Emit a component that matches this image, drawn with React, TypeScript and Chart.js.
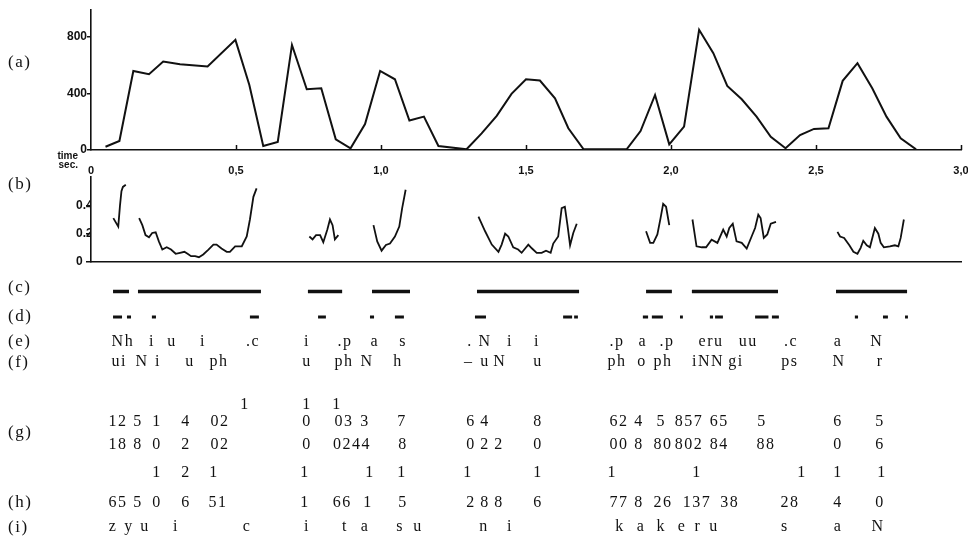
import React, { useEffect, useRef } from 'react';
import { Chart, registerables } from 'chart.js';

Chart.register(...registerables);

// ---------- axis ticks ----------
const X_TICK_VALUES = [0, 0.5, 1, 1.5, 2, 2.5, 3];
const X_TICK_LABELS = ['0', '0,5', '1,0', '1,5', '2,0', '2,5', '3,0'];
const A_TICK_VALUES = [0, 400, 800];
const A_TICK_LABELS = ['0', '400', '800'];
const B_TICK_VALUES = [0, 0.2, 0.4];
const B_TICK_LABELS = ['0', '0.2', '0.4'];

// ---------- (a) amplitude ----------
const ampTimes = [0.05, 0.098, 0.146, 0.2, 0.249, 0.307, 0.402, 0.498, 0.546, 0.594, 0.644, 0.693, 0.744, 0.794, 0.844, 0.895, 0.945, 0.997, 1.048, 1.098, 1.148, 1.198, 1.295, 1.347, 1.399, 1.45, 1.5, 1.548, 1.6, 1.646, 1.698, 1.847, 1.895, 1.945, 1.994, 2.045, 2.097, 2.146, 2.194, 2.244, 2.295, 2.344, 2.395, 2.445, 2.493, 2.543, 2.592, 2.643, 2.694, 2.743, 2.792, 2.845];
const ampValues = [23, 64, 559, 536, 625, 607, 590, 779, 460, 28, 57, 743, 430, 437, 76, 12, 184, 559, 500, 208, 236, 28, 5, 118, 241, 397, 500, 491, 366, 154, 7, 5, 134, 389, 40, 165, 850, 685, 453, 359, 236, 94, 12, 106, 149, 154, 489, 614, 437, 236, 83, 5];

// ---------- (b) pitch (null = break) ----------
const pitchTimes = [
  0.077, 0.094, 0.1, 0.105, 0.11, 0.12, null,
  0.166, 0.177, 0.188, 0.2, 0.211, 0.223, 0.234, 0.246, 0.261, 0.276, 0.292, 0.307, 0.322, 0.333, 0.345, 0.359, 0.372, 0.387, 0.405, 0.422, 0.433, 0.45, 0.468, 0.479, 0.497, 0.51, 0.52, 0.537, 0.548, 0.56, 0.571, null,
  0.753, 0.764, 0.776, 0.79, 0.801, 0.815, 0.824, 0.833, 0.841, 0.853, null,
  0.974, 0.987, 1.002, 1.017, 1.031, 1.048, 1.063, 1.073, 1.085, null,
  1.336, 1.359, 1.382, 1.405, 1.416, 1.428, 1.439, 1.456, 1.473, 1.485, 1.497, 1.508, 1.52, 1.537, 1.554, 1.569, 1.585, 1.594, 1.611, 1.623, 1.634, 1.643, 1.652, 1.663, 1.675, null,
  1.914, 1.928, 1.939, 1.953, 1.964, 1.973, 1.983, 1.994, null,
  2.074, 2.088, 2.106, 2.121, 2.14, 2.16, 2.18, 2.192, 2.201, 2.213, 2.226, 2.244, 2.261, 2.278, 2.29, 2.301, 2.309, 2.32, 2.332, 2.344, 2.362, null,
  2.574, 2.583, 2.597, 2.615, 2.629, 2.643, 2.654, 2.663, 2.675, 2.686, 2.703, 2.715, 2.723, 2.734, 2.755, 2.772, 2.784, 2.792, 2.803,
];
const pitchValues = [
  0.31, 0.25, 0.4, 0.5, 0.53, 0.545, null,
  0.31, 0.26, 0.19, 0.175, 0.205, 0.21, 0.146, 0.088, 0.104, 0.088, 0.058, 0.065, 0.072, 0.058, 0.041, 0.041, 0.034, 0.053, 0.088, 0.123, 0.123, 0.095, 0.072, 0.072, 0.111, 0.111, 0.111, 0.18, 0.3, 0.46, 0.52, null,
  0.18, 0.16, 0.19, 0.19, 0.14, 0.23, 0.3, 0.26, 0.16, 0.19, null,
  0.26, 0.145, 0.08, 0.12, 0.13, 0.18, 0.25, 0.38, 0.51, null,
  0.32, 0.217, 0.123, 0.072, 0.123, 0.2, 0.18, 0.104, 0.088, 0.065, 0.095, 0.123, 0.097, 0.065, 0.065, 0.08, 0.065, 0.13, 0.18, 0.38, 0.39, 0.26, 0.118, 0.205, 0.27, null,
  0.217, 0.135, 0.135, 0.194, 0.31, 0.41, 0.39, 0.26, null,
  0.3, 0.111, 0.104, 0.104, 0.158, 0.135, 0.229, 0.18, 0.24, 0.27, 0.146, 0.135, 0.095, 0.18, 0.24, 0.334, 0.31, 0.17, 0.194, 0.27, 0.283, null,
  0.213, 0.18, 0.17, 0.118, 0.072, 0.058, 0.1, 0.15, 0.118, 0.104, 0.24, 0.2, 0.135, 0.104, 0.111, 0.118, 0.111, 0.17, 0.3,
];

// ---------- (c) voiced segments, (d) marks ----------
const cStarts = [0.076, 0.162, 0.748, 0.969, 1.331, 1.914, 2.072, 2.569];
const cEnds = [0.131, 0.586, 0.866, 1.1, 1.683, 2.003, 2.369, 2.814];
const dStarts = [0.076, 0.124, 0.21, 0.548, 0.783, 0.962, 1.048, 1.324, 1.628, 1.666, 1.903, 1.934, 2.031, 2.134, 2.152, 2.29, 2.348, 2.634, 2.731, 2.807];
const dEnds = [0.107, 0.138, 0.224, 0.579, 0.81, 0.976, 1.079, 1.362, 1.659, 1.679, 1.921, 1.972, 2.041, 2.145, 2.179, 2.336, 2.372, 2.645, 2.748, 2.817];

// ---------- text rows (label, time) ----------
const eLabels = ['Nh', 'i', 'u', 'i', '.c', 'i', '.p', 'a', 's', '.', 'N', 'i', 'i', '.p', 'a', '.p', 'eru', 'uu', '.c', 'a', 'N'];
const eTimes = [0.11, 0.21, 0.279, 0.386, 0.559, 0.745, 0.876, 0.979, 1.076, 1.307, 1.359, 1.445, 1.538, 1.814, 1.903, 1.986, 2.138, 2.266, 2.414, 2.576, 2.71];
const fLabels = ['ui', 'N', 'i', 'u', 'ph', 'u', 'ph', 'N', 'h', '–', 'u', 'N', 'u', 'ph', 'o', 'ph', 'iNN', 'gi', 'ps', 'N', 'r'];
const fTimes = [0.097, 0.176, 0.231, 0.341, 0.441, 0.745, 0.872, 0.952, 1.059, 1.303, 1.359, 1.41, 1.541, 1.814, 1.9, 1.972, 2.128, 2.224, 2.41, 2.579, 2.721];
const gSupLabels = ['1', '1', '1'];
const gSupTimes = [0.531, 0.745, 0.848];
const g1Labels = ['12', '5', '1', '4', '02', '0', '03', '3', '7', '6', '4', '8', '62', '4', '5', '857', '65', '5', '6', '5'];
const g1Times = [0.093, 0.162, 0.228, 0.328, 0.445, 0.745, 0.872, 0.945, 1.072, 1.31, 1.359, 1.541, 1.821, 1.89, 1.966, 2.062, 2.166, 2.314, 2.576, 2.721];
const g2Labels = ['18', '8', '0', '2', '02', '0', '0244', '8', '0', '2', '2', '0', '00', '8', '80', '802', '84', '88', '0', '6'];
const g2Times = [0.093, 0.162, 0.228, 0.328, 0.445, 0.745, 0.9, 1.076, 1.31, 1.359, 1.407, 1.541, 1.821, 1.89, 1.972, 2.062, 2.166, 2.328, 2.576, 2.721];
const hSupLabels = ['1', '2', '1', '1', '1', '1', '1', '1', '1', '1', '1', '1', '1'];
const hSupTimes = [0.228, 0.328, 0.424, 0.738, 0.962, 1.072, 1.3, 1.541, 1.797, 2.09, 2.452, 2.576, 2.728];
const hLabels = ['65', '5', '0', '6', '51', '1', '66', '1', '5', '2', '8', '8', '6', '77', '8', '26', '137', '38', '28', '4', '0'];
const hTimes = [0.093, 0.162, 0.228, 0.328, 0.438, 0.738, 0.866, 0.955, 1.076, 1.31, 1.359, 1.407, 1.541, 1.821, 1.89, 1.972, 2.09, 2.203, 2.41, 2.576, 2.721];
const iLabels = ['z', 'y', 'u', 'i', 'c', 'i', 't', 'a', 's', 'u', 'n', 'i', 'k', 'a', 'k', 'e', 'r', 'u', 's', 'a', 'N'];
const iTimes = [0.076, 0.131, 0.186, 0.293, 0.538, 0.745, 0.876, 0.945, 1.066, 1.128, 1.355, 1.445, 1.824, 1.897, 1.966, 2.038, 2.093, 2.148, 2.393, 2.576, 2.714];

const ROW_NAMES = ['(a)', '(b)', '(c)', '(d)', '(e)', '(f)', '(g)', '(h)', '(i)'];

// ---------- layout / style ----------
const INK = '#111111';
const SERIF = '"Liberation Serif", "Times New Roman", serif';
const SANS = '"Liberation Sans", Arial, sans-serif';
const AXIS_DASH = [18, 4, 2, 4];
const W = 968;
const PLOT_RIGHT_PAD = 7;
const NAME_Y = [63, 185, 288, 317, 342, 363, 433, 503, 528];
const ROW_C = 291.5, ROW_D = 317, ROW_E = 342, ROW_F = 362, ROW_GS = 405, ROW_G1 = 422, ROW_G2 = 445, ROW_HS = 473, ROW_H = 503, ROW_I = 527;
const C_TOP = 275, C_H = 261;
const B_TOP = 170, B_H = 100;
const A_H = 185;

function segPoints(starts: number[], ends: number[], y: number) {
  const pts: any[] = [];
  starts.forEach((s, i) => {
    pts.push({ x: s, y }, { x: ends[i], y }, { x: ends[i], y: null });
  });
  return pts;
}

function seriesPoints(times: (number | null)[], values: (number | null)[]) {
  let last = 0;
  return times.map((t, i) => {
    if (t === null || values[i] === null) return { x: last, y: null };
    last = t;
    return { x: t, y: values[i] };
  });
}

function drawName(ctx: CanvasRenderingContext2D, idx: number, offsetY: number) {
  ctx.save();
  ctx.font = `17px ${SERIF}`;
  (ctx as any).letterSpacing = '1.5px';
  ctx.fillStyle = INK;
  ctx.textAlign = 'left';
  ctx.textBaseline = 'middle';
  ctx.fillText(ROW_NAMES[idx], 8, NAME_Y[idx] - offsetY);
  ctx.restore();
}

const yTickFont = { family: SANS, size: 12, weight: 'bold' as const };
const xTickFont = { family: SANS, size: 11, weight: 'bold' as const };

function configA() {
  return {
    type: 'line',
    data: {
      datasets: [{
        data: seriesPoints(ampTimes, ampValues),
        borderColor: INK, borderWidth: 2, pointRadius: 0, tension: 0, fill: false,
      }],
    },
    options: {
      animation: false, responsive: false, maintainAspectRatio: false,
      layout: { padding: { top: 10, left: 0, right: PLOT_RIGHT_PAD, bottom: 0 } },
      plugins: { legend: { display: false }, tooltip: { enabled: false } },
      scales: {
        x: {
          type: 'linear', min: 0, max: 3,
          afterBuildTicks: (s: any) => { s.ticks = X_TICK_VALUES.map(v => ({ value: v })); },
          afterFit: (s: any) => { s.height = A_H - 150; s.paddingLeft = 0; s.paddingRight = 0; },
          ticks: { callback: (_v: any, i: number) => X_TICK_LABELS[i], font: xTickFont, color: INK, padding: 14, maxRotation: 0, autoSkip: false },
          grid: { display: false, drawTicks: false },
          border: { color: INK, width: 1.6, dash: AXIS_DASH },
        },
        y: {
          type: 'linear', min: 0, max: 990,
          afterBuildTicks: (s: any) => { s.ticks = A_TICK_VALUES.map(v => ({ value: v })); },
          afterFit: (s: any) => { s.width = 91; s.paddingTop = 0; s.paddingBottom = 0; },
          ticks: { callback: (_v: any, i: number) => A_TICK_LABELS[i], font: yTickFont, color: INK, padding: 0 },
          grid: { drawOnChartArea: false, drawTicks: true, tickLength: 4, color: INK, lineWidth: 1.5 },
          border: { color: INK, width: 1.6 },
        },
      },
    },
    plugins: [{
      id: 'decorA',
      afterDraw(chart: any) {
        const ctx = chart.ctx;
        const xs = chart.scales.x;
        const y0 = chart.scales.y.getPixelForValue(0);
        ctx.save();
        ctx.strokeStyle = INK;
        ctx.lineWidth = 1.5;
        X_TICK_VALUES.forEach(v => {
          if (v === 0) return;
          const px = Math.round(xs.getPixelForValue(v)) + 0.5;
          ctx.beginPath(); ctx.moveTo(px, y0); ctx.lineTo(px, y0 - 5); ctx.stroke();
        });
        ctx.fillStyle = INK;
        ctx.font = `bold 10px ${SANS}`;
        ctx.textAlign = 'right';
        ctx.textBaseline = 'middle';
        ctx.fillText('time', 78, 156);
        ctx.fillText('sec.', 78, 165);
        ctx.restore();
        drawName(ctx, 0, 0);
      },
    }],
  };
}

function configB() {
  return {
    type: 'line',
    data: {
      datasets: [{
        data: seriesPoints(pitchTimes, pitchValues),
        borderColor: INK, borderWidth: 1.8, pointRadius: 0, tension: 0, fill: false, spanGaps: false,
      }],
    },
    options: {
      animation: false, responsive: false, maintainAspectRatio: false,
      layout: { padding: { top: 7, left: 76, right: PLOT_RIGHT_PAD, bottom: 0 } },
      plugins: { legend: { display: false }, tooltip: { enabled: false } },
      scales: {
        x: {
          type: 'linear', min: 0, max: 3,
          afterFit: (s: any) => { s.height = B_H - 92; s.paddingLeft = 0; s.paddingRight = 0; },
          ticks: { display: false },
          grid: { display: false, drawTicks: false },
          border: { color: INK, width: 1.6, dash: AXIS_DASH },
        },
        y: {
          type: 'linear', min: 0, max: 0.6,
          afterBuildTicks: (s: any) => { s.ticks = B_TICK_VALUES.map(v => ({ value: v })); },
          afterFit: (s: any) => { s.width = 15; s.paddingTop = 0; s.paddingBottom = 0; },
          ticks: { callback: (_v: any, i: number) => B_TICK_LABELS[i], font: yTickFont, color: INK, padding: 0, crossAlign: 'far' },
          grid: { drawOnChartArea: false, drawTicks: true, tickLength: 5, color: INK, lineWidth: 1.5 },
          border: { color: INK, width: 1.6 },
        },
      },
    },
    plugins: [{
      id: 'decorB',
      afterDraw(chart: any) { drawName(chart.ctx, 1, B_TOP); },
    }],
  };
}

function configC() {
  const rows: [string[], number[], number][] = [
    [eLabels, eTimes, ROW_E],
    [fLabels, fTimes, ROW_F],
    [gSupLabels, gSupTimes, ROW_GS],
    [g1Labels, g1Times, ROW_G1],
    [g2Labels, g2Times, ROW_G2],
    [hSupLabels, hSupTimes, ROW_HS],
    [hLabels, hTimes, ROW_H],
    [iLabels, iTimes, ROW_I],
  ];
  return {
    type: 'line',
    data: {
      datasets: [
        { data: segPoints(cStarts, cEnds, ROW_C), borderColor: INK, borderWidth: 3.5, pointRadius: 0, spanGaps: false, borderCapStyle: 'butt' },
        { data: segPoints(dStarts, dEnds, ROW_D), borderColor: INK, borderWidth: 3.2, pointRadius: 0, spanGaps: false, borderCapStyle: 'butt' },
      ],
    },
    options: {
      animation: false, responsive: false, maintainAspectRatio: false,
      layout: { padding: { top: 0, left: 91, right: PLOT_RIGHT_PAD, bottom: 0 } },
      plugins: { legend: { display: false }, tooltip: { enabled: false } },
      scales: {
        x: { type: 'linear', min: 0, max: 3, display: false },
        y: { type: 'linear', min: C_TOP, max: C_TOP + C_H, reverse: true, display: false },
      },
    },
    plugins: [{
      id: 'textRows',
      afterDraw(chart: any) {
        const ctx = chart.ctx;
        const xs = chart.scales.x;
        const ys = chart.scales.y;
        ctx.save();
        ctx.fillStyle = INK;
        ctx.font = `16px ${SERIF}`;
        (ctx as any).letterSpacing = '1.5px';
        ctx.textAlign = 'center';
        ctx.textBaseline = 'middle';
        rows.forEach(([labels, times, ry]) => {
          const py = ys.getPixelForValue(ry);
          labels.forEach((lab, i) => ctx.fillText(lab, xs.getPixelForValue(times[i]), py));
        });
        ctx.restore();
        for (let k = 2; k < ROW_NAMES.length; k++) drawName(ctx, k, C_TOP);
      },
    }],
  };
}

function ChartCanvas({ make, top, height }: { make: () => any; top: number; height: number }) {
  const ref = useRef<HTMLCanvasElement | null>(null);
  useEffect(() => {
    if (!ref.current) return;
    const chart = new Chart(ref.current, make());
    return () => chart.destroy();
  }, []);
  return (
    <canvas
      ref={ref}
      width={W}
      height={height}
      style={{ position: 'absolute', left: 0, top, width: W, height, display: 'block' }}
    />
  );
}

export default function App() {
  return (
    <div style={{ position: 'fixed', left: 0, top: 0, width: W, height: 536, background: '#ffffff', overflow: 'hidden' }}>
      <ChartCanvas make={configA} top={0} height={A_H} />
      <ChartCanvas make={configB} top={B_TOP} height={B_H} />
      <ChartCanvas make={configC} top={C_TOP} height={C_H} />
    </div>
  );
}
